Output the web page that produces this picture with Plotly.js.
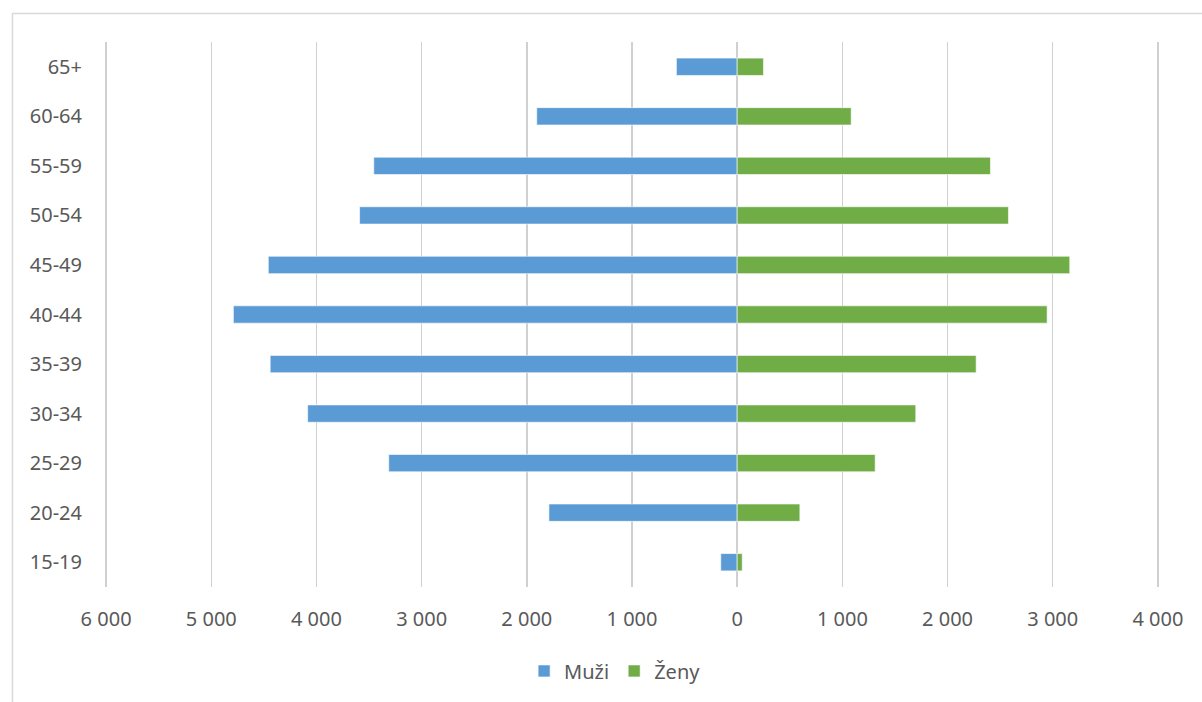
<!DOCTYPE html>
<html>
<head>
<meta charset="utf-8">
<script src="https://cdn.plot.ly/plotly-3.0.1.min.js"></script>
<style>html,body{margin:0;padding:0;background:#fff}#chart{width:1202px;height:702px}</style>
</head>
<body>
<div id="chart"></div>
<script>
const ageGroups = ["15-19","20-24","25-29","30-34","35-39","40-44","45-49","50-54","55-59","60-64","65+"];
const muzi = [156, 1790, 3313, 4084, 4440, 4790, 4458, 3590, 3455, 1906, 578];
const zeny = [48, 596, 1312, 1698, 2272, 2947, 3162, 2579, 2408, 1084, 250];
const xTickVals = [-6000,-5000,-4000,-3000,-2000,-1000,0,1000,2000,3000,4000];
const xTickText = ["6 000","5 000","4 000","3 000","2 000","1 000","0","1 000","2 000","3 000","4 000"];

const font = {family: "Noto Sans, sans-serif", size: 20, color: "#595959"};

const traces = [
  {
    type: "bar", orientation: "h", name: "Muži",
    y: ageGroups, x: muzi.map(v => -v),
    marker: {color: "#5B9BD5", line: {color: "#ffffff", width: 0.6}},
    hoverinfo: "none"
  },
  {
    type: "bar", orientation: "h", name: "Ženy",
    y: ageGroups, x: zeny,
    marker: {color: "#70AD47", line: {color: "#ffffff", width: 0.6}},
    hoverinfo: "none"
  }
];

const layout = {
  width: 1202, height: 702,
  margin: {l: 104, r: 42, t: 42, b: 115},
  paper_bgcolor: "#ffffff", plot_bgcolor: "#ffffff",
  font: font,
  barmode: "relative",
  bargap: 0.65,
  showlegend: true,
  legend: {
    orientation: "h", x: 0.484, xanchor: "center", y: -0.154, yanchor: "middle",
    font: font, traceorder: "normal", itemwidth: 30
  },
  xaxis: {
    range: [-6020, 4020],
    tickvals: xTickVals, ticktext: xTickText,
    showgrid: true, gridcolor: "#d0d0d0", gridwidth: 1.5,
    zeroline: false, showline: false, ticks: "",
    ticklabelstandoff: 18,
    tickfont: font, fixedrange: true
  },
  yaxis: {
    type: "category",
    categoryorder: "array", categoryarray: ageGroups,
    showgrid: false, zeroline: false, showline: false, ticks: "",
    ticklabelstandoff: 21,
    tickfont: font, fixedrange: true
  },
  shapes: [{
    type: "rect", xref: "paper", yref: "paper",
    x0: -0.0867, x1: 1.05, y0: -0.23, y1: 1.0523,
    line: {color: "#d9d9d9", width: 1.5}, fillcolor: "rgba(0,0,0,0)", layer: "below"
  }]
};

Plotly.newPlot("chart", traces, layout, {staticPlot: true, displayModeBar: false});
</script>
</body>
</html>
